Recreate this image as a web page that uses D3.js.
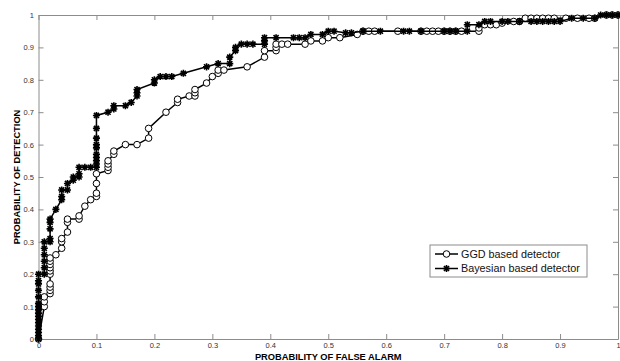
<!DOCTYPE html>
<html>
<head>
<meta charset="utf-8">
<script src="https://cdn.jsdelivr.net/npm/d3@7"></script>
<style>
  body { margin: 0; background: #fff; }
  svg { display: block; font-family: Arial, "Liberation Sans", sans-serif; }
</style>
</head>
<body>
<div id="chart"></div>
<script>
// GGD based detector (open circles)
const ggdFA = [0, 0.01, 0.01, 0.01, 0.02, 0.02, 0.02, 0.02, 0.02, 0.02, 0.02, 0.02, 0.02, 0.02, 0.03, 0.04, 0.04, 0.04, 0.05, 0.05, 0.05, 0.07, 0.07, 0.08, 0.09, 0.10, 0.10, 0.10, 0.10, 0.12, 0.12, 0.12, 0.12, 0.13, 0.13, 0.15, 0.17, 0.19, 0.19, 0.22, 0.24, 0.24, 0.26, 0.27, 0.27, 0.27, 0.29, 0.30, 0.31, 0.31, 0.32, 0.36, 0.39, 0.39, 0.41, 0.41, 0.41, 0.42, 0.43, 0.46, 0.47, 0.49, 0.50, 0.52, 0.55, 0.56, 0.57, 0.58, 0.62, 0.66, 0.67, 0.68, 0.69, 0.70, 0.71, 0.72, 0.73, 0.76, 0.76, 0.77, 0.78, 0.79, 0.80, 0.82, 0.83, 0.84, 0.85, 0.86, 0.87, 0.88, 0.89, 0.91, 0.93, 0.95, 0.96, 0.98, 0.99, 1];
const ggdPD = [0, 0.10, 0.115, 0.13, 0.14, 0.15, 0.16, 0.17, 0.20, 0.21, 0.22, 0.23, 0.24, 0.25, 0.26, 0.28, 0.30, 0.31, 0.33, 0.36, 0.37, 0.37, 0.38, 0.41, 0.43, 0.44, 0.45, 0.48, 0.51, 0.52, 0.53, 0.54, 0.55, 0.57, 0.58, 0.60, 0.60, 0.62, 0.65, 0.70, 0.73, 0.74, 0.75, 0.75, 0.76, 0.77, 0.79, 0.81, 0.82, 0.83, 0.83, 0.84, 0.87, 0.89, 0.89, 0.90, 0.91, 0.91, 0.91, 0.91, 0.92, 0.92, 0.93, 0.93, 0.94, 0.95, 0.95, 0.95, 0.95, 0.95, 0.95, 0.95, 0.95, 0.95, 0.95, 0.95, 0.95, 0.95, 0.96, 0.97, 0.97, 0.97, 0.975, 0.98, 0.98, 0.99, 0.99, 0.99, 0.99, 0.99, 0.99, 0.99, 0.99, 0.99, 0.99, 1, 1, 1];

// Bayesian based detector (asterisks)
const bayesFA = [0, 0, 0, 0, 0, 0, 0, 0, 0, 0, 0, 0, 0, 0, 0, 0, 0, 0.01, 0.01, 0.01, 0.01, 0.01, 0.01, 0.02, 0.02, 0.02, 0.02, 0.02, 0.03, 0.04, 0.04, 0.04, 0.05, 0.05, 0.06, 0.06, 0.07, 0.07, 0.07, 0.08, 0.09, 0.10, 0.10, 0.10, 0.10, 0.10, 0.10, 0.10, 0.10, 0.10, 0.10, 0.12, 0.13, 0.13, 0.15, 0.16, 0.17, 0.17, 0.17, 0.20, 0.20, 0.21, 0.22, 0.23, 0.25, 0.29, 0.31, 0.33, 0.33, 0.34, 0.34, 0.35, 0.36, 0.37, 0.39, 0.39, 0.39, 0.41, 0.44, 0.45, 0.46, 0.47, 0.49, 0.50, 0.51, 0.53, 0.54, 0.56, 0.59, 0.63, 0.64, 0.66, 0.70, 0.71, 0.72, 0.74, 0.74, 0.76, 0.77, 0.78, 0.80, 0.81, 0.83, 0.85, 0.86, 0.87, 0.88, 0.89, 0.90, 0.92, 0.94, 0.96, 0.97, 0.98, 0.99, 1];
const bayesPD = [0, 0.01, 0.02, 0.03, 0.04, 0.05, 0.06, 0.07, 0.08, 0.09, 0.10, 0.11, 0.13, 0.15, 0.17, 0.18, 0.20, 0.20, 0.22, 0.24, 0.26, 0.28, 0.30, 0.30, 0.31, 0.34, 0.36, 0.37, 0.40, 0.43, 0.44, 0.46, 0.46, 0.48, 0.49, 0.50, 0.50, 0.51, 0.53, 0.53, 0.53, 0.53, 0.54, 0.55, 0.56, 0.57, 0.59, 0.60, 0.62, 0.65, 0.69, 0.70, 0.71, 0.72, 0.72, 0.73, 0.75, 0.76, 0.77, 0.79, 0.80, 0.81, 0.81, 0.81, 0.82, 0.84, 0.85, 0.85, 0.87, 0.89, 0.90, 0.91, 0.91, 0.91, 0.91, 0.92, 0.93, 0.93, 0.93, 0.93, 0.93, 0.94, 0.94, 0.95, 0.95, 0.945, 0.945, 0.95, 0.95, 0.95, 0.95, 0.95, 0.95, 0.95, 0.95, 0.95, 0.97, 0.97, 0.98, 0.98, 0.98, 0.98, 0.98, 0.98, 0.98, 0.98, 0.98, 0.98, 0.98, 0.99, 0.99, 0.99, 1, 1, 1, 1];

const ticks = [0, 0.1, 0.2, 0.3, 0.4, 0.5, 0.6, 0.7, 0.8, 0.9, 1];
const seriesNames = ["GGD based detector", "Bayesian based detector"];

const W = 620, H = 361;
const margin = { top: 15, right: 2, bottom: 22, left: 38.5 };
const width = W - margin.left - margin.right;
const height = H - margin.top - margin.bottom;

const svg = d3.select("#chart").append("svg")
  .attr("width", W)
  .attr("height", H);

const g = svg.append("g").attr("transform", `translate(${margin.left},${margin.top})`);

const x = d3.scaleLinear().domain([0, 1]).range([0, width]);
const y = d3.scaleLinear().domain([0, 1]).range([height, 0]);

const fmt = d => d === 0 || d === 1 ? String(d) : d3.format(".1f")(d);
const axisColor = "#8c8c8c";

function styleAxis(sel) {
  sel.select(".domain").attr("stroke", axisColor);
  sel.selectAll(".tick line").attr("stroke", axisColor);
  sel.selectAll(".tick text").attr("fill", "#333").style("font-size", "7.5px");
}

g.append("g").attr("transform", `translate(0,${height})`)
  .call(d3.axisBottom(x).tickValues(ticks).tickFormat(fmt).tickSizeInner(-5).tickSizeOuter(0).tickPadding(4))
  .call(styleAxis);
g.append("g")
  .call(d3.axisTop(x).tickValues(ticks).tickFormat("").tickSizeInner(-5).tickSizeOuter(0))
  .call(styleAxis);
g.append("g")
  .call(d3.axisLeft(y).tickValues(ticks).tickFormat(fmt).tickSizeInner(-5).tickSizeOuter(0).tickPadding(4.5))
  .call(styleAxis);
g.append("g").attr("transform", `translate(${width},0)`)
  .call(d3.axisRight(y).tickValues(ticks).tickFormat("").tickSizeInner(-5).tickSizeOuter(0))
  .call(styleAxis);

// asterisk marker like matlab '*'
const asterisk = {
  draw(ctx, size) {
    const r = Math.sqrt(size) / 2;
    const d = r * 0.72;
    ctx.moveTo(-r, 0); ctx.lineTo(r, 0);
    ctx.moveTo(0, -r); ctx.lineTo(0, r);
    ctx.moveTo(-d, -d); ctx.lineTo(d, d);
    ctx.moveTo(-d, d); ctx.lineTo(d, -d);
  }
};

const ggd = ggdFA.map((v, i) => ({ fa: v, pd: ggdPD[i] }));
const bayes = bayesFA.map((v, i) => ({ fa: v, pd: bayesPD[i] }));

const line = d3.line().x(d => x(d.fa)).y(d => y(d.pd));

g.append("path").datum(ggd)
  .attr("d", line)
  .attr("fill", "none")
  .attr("stroke", "#000")
  .attr("stroke-width", 1.5);

g.selectAll(".ggd").data(ggd).enter().append("circle")
  .attr("class", "ggd")
  .attr("cx", d => x(d.fa))
  .attr("cy", d => y(d.pd))
  .attr("r", 3.3)
  .attr("fill", "#fff")
  .attr("stroke", "#000")
  .attr("stroke-width", 1);

g.append("path").datum(bayes)
  .attr("d", line)
  .attr("fill", "none")
  .attr("stroke", "#000")
  .attr("stroke-width", 1.5);

g.selectAll(".bayes").data(bayes).enter().append("path")
  .attr("class", "bayes")
  .attr("transform", d => `translate(${x(d.fa)},${y(d.pd)})`)
  .attr("d", d3.symbol().type(asterisk).size(50))
  .attr("fill", "none")
  .attr("stroke", "#000")
  .attr("stroke-width", 1.6);

// axis titles
svg.append("text")
  .attr("x", margin.left + width / 2)
  .attr("y", H - 1.5)
  .attr("text-anchor", "middle")
  .style("font-size", "9.3px")
  .style("font-weight", "bold")
  .text("PROBABILITY OF FALSE ALARM");

svg.append("text")
  .attr("transform", `translate(19.5,${margin.top + height / 2}) rotate(-90)`)
  .attr("text-anchor", "middle")
  .style("font-size", "9.3px")
  .style("font-weight", "bold")
  .text("PROBABILITY OF DETECTION");

// legend
const leg = svg.append("g").attr("transform", "translate(430,245)");
leg.append("rect")
  .attr("width", 157).attr("height", 32)
  .attr("fill", "#fff")
  .attr("stroke", axisColor)
  .attr("stroke-width", 1);

seriesNames.forEach((name, i) => {
  const ly = 9 + i * 14.5;
  const row = leg.append("g").attr("transform", `translate(0,${ly})`);
  row.append("line")
    .attr("x1", 5).attr("x2", 28)
    .attr("stroke", "#000").attr("stroke-width", 1.5);
  if (i === 0) {
    row.append("circle").attr("cx", 16.5).attr("r", 3.3)
      .attr("fill", "#fff").attr("stroke", "#000");
  } else {
    row.append("path").attr("transform", "translate(16.5,0)")
      .attr("d", d3.symbol().type(asterisk).size(50))
      .attr("fill", "none").attr("stroke", "#000").attr("stroke-width", 1.6);
  }
  row.append("text")
    .attr("x", 31).attr("dy", "0.35em")
    .style("font-size", "10.8px")
    .attr("fill", "#111")
    .text(name);
});
</script>
</body>
</html>
